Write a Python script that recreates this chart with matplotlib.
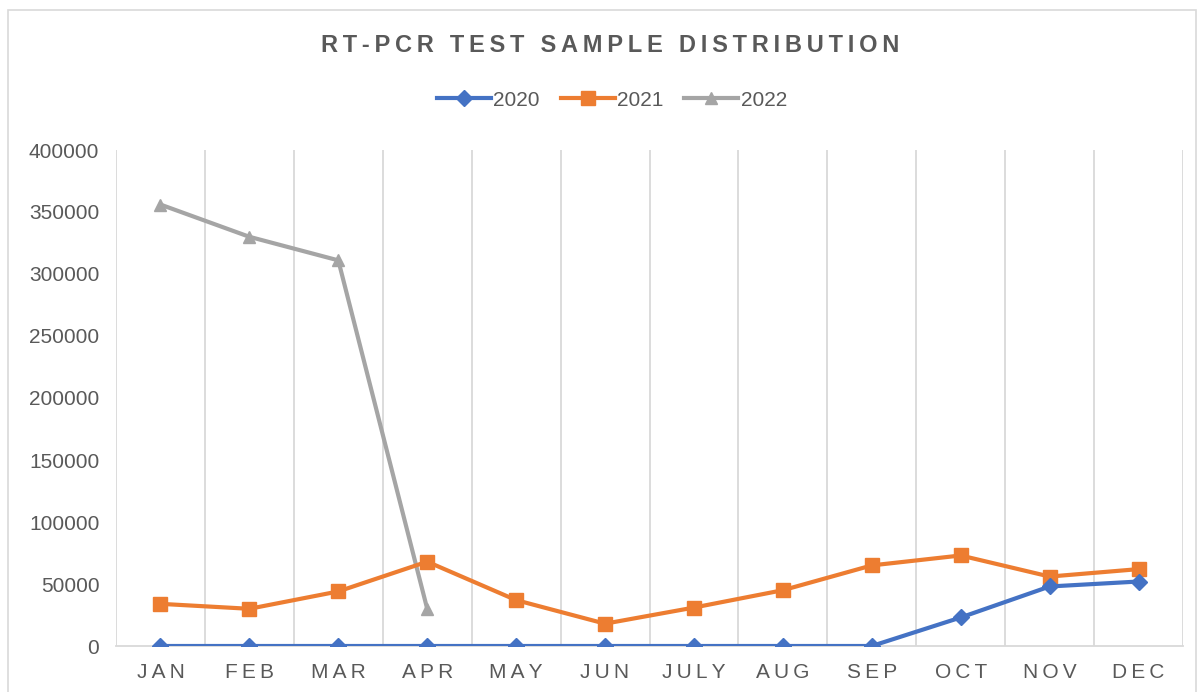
import numpy as np
import matplotlib
matplotlib.use('Agg')
import matplotlib.pyplot as plt
from matplotlib.patches import Rectangle

plt.rcParams['font.family'] = ['Liberation Sans', 'DejaVu Sans']

#===============================================================================
months = ['JAN', 'FEB', 'MAR', 'APR', 'MAY', 'JUN', 'JULY', 'AUG', 'SEP', 'OCT', 'NOV', 'DEC']
y2020 = [0, 0, 0, 0, 0, 0, 0, 0, 0, 23000, 48000, 52000]
y2021 = [34000, 30000, 44000, 68000, 37000, 18000, 31000, 45000, 65000, 73000, 56000, 62000]
y2022 = [356000, 330000, 311000, 30000]
yticks = [0, 50000, 100000, 150000, 200000, 250000, 300000, 350000, 400000]
#===============================================================================

def spaced(s, sep='\u2009'):
    return sep.join(s)

fig = plt.figure(figsize=(12.04, 6.92), dpi=100, facecolor='w')
fig.patches.append(Rectangle((8/1204, -0.05), 1188/1204, 1.05 - 10/692, transform=fig.transFigure,
                             fill=False, edgecolor='#d9d9d9', lw=1.2))
ax = fig.add_axes([116/1204, 1 - 646/692, (1183 - 116)/1204, (646 - 150)/692])

x = np.arange(len(months))
ax.plot(x, y2020, color='#4472c4', lw=3, marker='D', ms=8, label='2020', zorder=4)
ax.plot(x, y2021, color='#ed7d31', lw=3, marker='s', ms=10, label='2021', zorder=3)
ax.plot(x[:len(y2022)], y2022, color='#a5a5a5', lw=3, marker='^', ms=9, label='2022', zorder=2)

ax.set_xlim(-0.5, len(months) - 0.5)
ax.set_ylim(0, 400000)
ax.set_yticks(yticks)
ax.set_yticklabels([str(v) for v in yticks])
ax.set_xticks(x)
ax.set_xticklabels([spaced(m) for m in months])
ax.set_xticks(np.arange(-0.5, len(months)), minor=True)
ax.grid(True, which='minor', axis='x', color='#d9d9d9', lw=1.3)
ax.tick_params(which='both', length=0)
ax.tick_params(axis='y', labelsize=15, labelcolor='#595959', pad=12)
ax.tick_params(axis='x', labelsize=15, labelcolor='#595959', pad=12)
for s in ['top', 'right', 'left']:
    ax.spines[s].set_visible(False)
ax.spines['bottom'].set_color('#d9d9d9')
ax.spines['bottom'].set_linewidth(1.3)

fig.text(610/1204, 1 - 46/692, '\u2009'.join('RT-PCR TEST SAMPLE DISTRIBUTION'),
         ha='center', va='center', fontsize=17, fontweight='bold', color='#595959')
fig.legend(loc='center', bbox_to_anchor=(612/1204, 1 - 100/692), ncol=3, frameon=False,
           fontsize=15, labelcolor='#595959', handlelength=2.6, handletextpad=0.1, columnspacing=1.0)

plt.savefig('out.png', dpi=100)
